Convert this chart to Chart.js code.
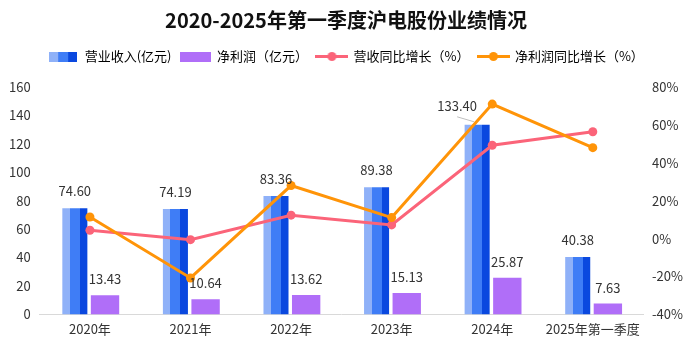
<!DOCTYPE html>
<html>
<head>
<meta charset="utf-8">
<script src="https://cdn.jsdelivr.net/npm/chart.js@4/dist/chart.umd.min.js"></script>
<style>
  html, body { margin: 0; padding: 0; background: #ffffff; }
  #wrap { width: 692px; height: 345px; }
</style>
</head>
<body>
<div id="wrap"><canvas id="c" width="692" height="345"></canvas></div>
<script>
// ---- data ----
const categories = ['2020年', '2021年', '2022年', '2023年', '2024年', '2025年第一季度'];
const revenue = [74.60, 74.19, 83.36, 89.38, 133.40, 40.38];          // 营业收入(亿元)
const netProfit = [13.43, 10.64, 13.62, 15.13, 25.87, 7.63];          // 净利润（亿元）
const revenueGrowth = [4.4, -0.55, 12.36, 7.22, 49.25, 56.4];          // 营收同比增长（%）
const profitGrowth = [11.4, -20.77, 28.0, 11.09, 70.98, 48.0];         // 净利润同比增长（%）
const leftTicks = [0, 20, 40, 60, 80, 100, 120, 140, 160];
const rightTicks = [-40, -20, 0, 20, 40, 60, 80];
const seriesNames = ['营业收入(亿元)', '净利润（亿元）', '营收同比增长（%）', '净利润同比增长（%）'];
const calloutIndex = 4; // revenue label drawn with a leader line

// ---- styles ----
const FONT = '"Noto Sans CJK SC", "Noto Sans", sans-serif';
const BLUE_L = '#8fb1f8', BLUE_M = '#3f7df6', BLUE_D = '#0a48df';
const PURPLE = '#b06ef8';
const PINK = '#fb6479';
const ORANGE = '#ff9408';

function legendImg(kind) {
  const c = document.createElement('canvas');
  const g = c.getContext('2d');
  if (kind === 'rev') {
    c.width = 28; c.height = 10;
    g.fillStyle = BLUE_L; g.fillRect(0, 0, 9, 10);
    g.fillStyle = BLUE_M; g.fillRect(9, 0, 10, 10);
    g.fillStyle = BLUE_D; g.fillRect(19, 0, 9, 10);
  } else if (kind === 'profit') {
    c.width = 31; c.height = 10;
    g.fillStyle = PURPLE; g.fillRect(0, 0, 31, 10);
  } else {
    const col = kind === 'pink' ? PINK : ORANGE;
    c.width = 33; c.height = 11;
    g.strokeStyle = col; g.lineWidth = 3;
    g.beginPath(); g.moveTo(0, 5.5); g.lineTo(33, 5.5); g.stroke();
    g.fillStyle = col; g.beginPath(); g.arc(16.5, 5.5, 4.5, 0, Math.PI * 2); g.fill();
  }
  return c;
}
const legendImgs = [legendImg('rev'), legendImg('profit'), legendImg('pink'), legendImg('orange')];

const legendSpace = {
  id: 'legendSpace',
  beforeInit(chart) {
    const lg = chart.legend;
    if (!lg) return;
    const fit = lg.fit;
    lg.fit = function () { fit.call(this); this.height += 14; };
  }
};

const stripePlugin = {
  id: 'stripes',
  beforeDatasetsDraw(chart) {
    const meta = chart.getDatasetMeta(0);
    const ctx = chart.ctx;
    meta.data.forEach(el => {
      const x0 = el.x - el.width / 2, x1 = el.x + el.width / 2;
      const gr = ctx.createLinearGradient(x0, 0, x1, 0);
      gr.addColorStop(0, BLUE_L); gr.addColorStop(0.3, BLUE_L);
      gr.addColorStop(0.3, BLUE_M); gr.addColorStop(0.7, BLUE_M);
      gr.addColorStop(0.7, BLUE_D); gr.addColorStop(1, BLUE_D);
      el.options = Object.assign({}, el.options, { backgroundColor: gr });
    });
  }
};

const labelPlugin = {
  id: 'valueLabels',
  afterDatasetsDraw(chart) {
    const ctx = chart.ctx;
    ctx.save();
    ctx.font = '13px ' + FONT;
    ctx.fillStyle = '#333333';
    ctx.textAlign = 'center';
    ctx.textBaseline = 'alphabetic';
    chart.getDatasetMeta(0).data.forEach((el, i) => {
      const txt = revenue[i].toFixed(2);
      if (i === calloutIndex) {
        ctx.fillText(txt, el.x - 20, el.y - 14);
        ctx.strokeStyle = '#bfbfbf'; ctx.lineWidth = 1;
        ctx.beginPath(); ctx.moveTo(el.x - 20, el.y - 8); ctx.lineTo(el.x - 3, el.y - 3); ctx.stroke();
      } else {
        ctx.fillText(txt, el.x, el.y - 12);
      }
    });
    chart.getDatasetMeta(1).data.forEach((el, i) => {
      ctx.fillText(netProfit[i].toFixed(2), el.x, el.y - 11);
    });
    ctx.restore();
  }
};

new Chart(document.getElementById('c'), {
  type: 'bar',
  data: {
    labels: categories,
    datasets: [
      { type: 'bar', label: seriesNames[0], data: revenue, backgroundColor: BLUE_M,
        yAxisID: 'y', categoryPercentage: 0.6, barPercentage: 0.83, order: 2 },
      { type: 'bar', label: seriesNames[1], data: netProfit, backgroundColor: PURPLE,
        yAxisID: 'y', categoryPercentage: 0.6, barPercentage: 0.94, order: 2 },
      { type: 'line', label: seriesNames[2], data: revenueGrowth, borderColor: PINK, backgroundColor: PINK,
        yAxisID: 'y1', borderWidth: 3, pointRadius: 4.5, pointBorderWidth: 0, pointBackgroundColor: PINK, tension: 0, order: 1 },
      { type: 'line', label: seriesNames[3], data: profitGrowth, borderColor: ORANGE, backgroundColor: ORANGE,
        yAxisID: 'y1', borderWidth: 3, pointRadius: 4.5, pointBorderWidth: 0, pointBackgroundColor: ORANGE, tension: 0, order: 0 }
    ]
  },
  options: {
    responsive: false,
    animation: false,
    layout: { padding: { left: 0, right: 0, top: 0, bottom: 1 } },
    plugins: {
      title: {
        display: true, text: '2020-2025年第一季度沪电股份业绩情况',
        font: { family: FONT, size: 20, weight: 'bold' }, color: '#111111',
        padding: { top: 8, bottom: 9 }
      },
      legend: {
        display: true, position: 'top',
        labels: {
          usePointStyle: true, pointStyleWidth: 30, padding: 9,
          font: { family: FONT, size: 13 }, color: '#222222',
          generateLabels(chart) {
            return chart.data.datasets.map((ds, i) => ({
              text: ds.label, pointStyle: legendImgs[i], datasetIndex: i,
              fillStyle: 'transparent', strokeStyle: 'transparent', lineWidth: 0, hidden: false
            }));
          }
        }
      },
      tooltip: { enabled: false }
    },
    scales: {
      x: {
        grid: { display: false, drawTicks: false },
        border: { display: true, color: '#d9d9d9', width: 1 },
        ticks: { font: { family: FONT, size: 13 }, color: '#333333', padding: 7,
          maxRotation: 0, minRotation: 0, autoSkip: false }
      },
      y: {
        position: 'left', min: 0, max: 160,
        afterBuildTicks(s) { s.ticks = leftTicks.map(v => ({ value: v })); },
        grid: { display: false, drawTicks: false },
        border: { display: false },
        ticks: { font: { family: FONT, size: 13 }, color: '#333333', padding: 9 }
      },
      y1: {
        position: 'right', min: -40, max: 80,
        afterBuildTicks(s) { s.ticks = rightTicks.map(v => ({ value: v })); },
        grid: { display: false, drawTicks: false },
        border: { display: false },
        ticks: { font: { family: FONT, size: 13 }, color: '#333333', padding: 9,
          callback: v => v + '%' }
      }
    }
  },
  plugins: [legendSpace, stripePlugin, labelPlugin]
});
</script>
</body>
</html>
